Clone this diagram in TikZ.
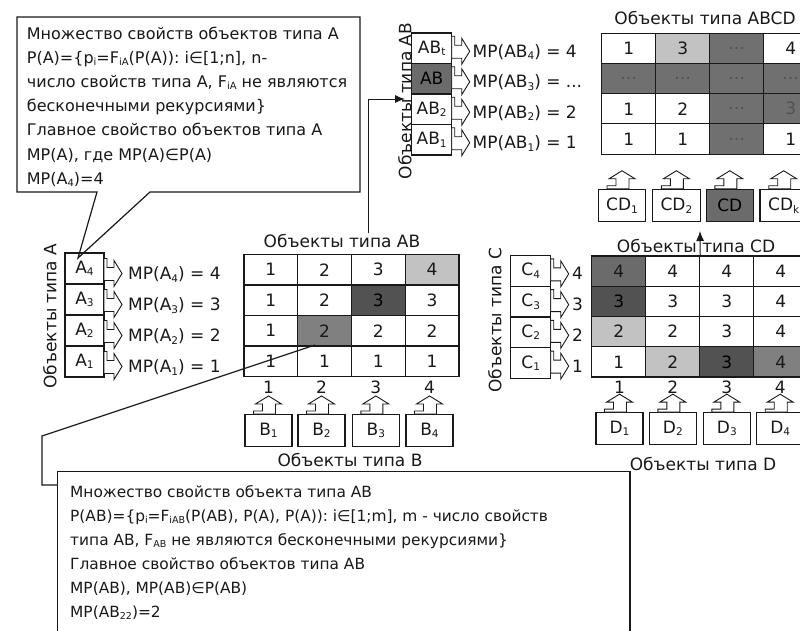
\documentclass[tikz,border=0pt]{standalone}
\usepackage{fontspec}
\setmainfont{DejaVu Sans}
\usepackage{graphicx}
\usetikzlibrary{arrows.meta}
\definecolor{ink}{gray}{0.1}
\definecolor{lg}{gray}{0.76}
\definecolor{mg}{gray}{0.50}
\definecolor{dg}{gray}{0.32}
\definecolor{bg}{gray}{0.44}
\definecolor{kg}{gray}{0.42}
\newcommand\lowidx[1]{\raisebox{-0.15em}{\scalebox{0.62}{#1}}}
\newcommand\trdots{...}
\newcommand\hdots{…}
\newcommand\lblfont{\fontsize{17}{20}\selectfont}
\newcommand\topfont{\fontsize{16}{20}\selectfont}
\newcommand\botfont{\fontsize{15.4}{18}\selectfont}
\tikzset{
  gridcell/.style={draw=ink, line width=1.1pt, inner sep=0pt, font=\lblfont, text=ink},
  obox/.style={draw=ink, line width=1.1pt, inner sep=0pt, font=\lblfont, text=ink, fill=white},
  lbl/.style={inner sep=0pt, font=\lblfont, text=ink},
  arr/.style={draw=ink, line width=0.9pt, fill=white, line join=miter},
  rarr/.pic={\path[arr,pic actions] (0,-15) -- (3,-15) -- (3,-6) -- (10,-6) -- (10,-13) -- (18,0) -- (10,13) -- (10,7) -- (0,7) -- cycle;},
  uarr/.pic={\path[arr,pic actions] (-15,0) -- (-15,-3) -- (-6,-3) -- (-6,-10) -- (-13,-10) -- (0,-18) -- (13,-10) -- (7,-10) -- (7,0) -- cycle;},
  callout/.style={draw=ink, line width=1.2pt},
  ctxt/.style={inner sep=0pt, anchor=base west, text=ink},
  conn/.style={draw=ink, line width=1pt},
}
\begin{document}
\begin{tikzpicture}[x=1pt,y=-1pt]
\useasboundingbox (0,0) rectangle (800,630);
\clip (0,0) rectangle (800,630);
\fill[white] (0,0) rectangle (800,630);

% ---------- A column ----------
\foreach \i/\r in {4/1,3/2,2/3,1/4} {
  \node[obox, minimum width=39pt, minimum height=31pt] (a\i) at (84.5,{253+31*(\r-0.5)}) {A\lowidx{\i}};
  \pic at (104,{253+31*(\r-1)+20.5}) {rarr};
  \node[lbl, anchor=base west] (mpa\i) at (128,{253+31*(\r-1)+26.5}) {MP(A\lowidx{\i}) = \i};
}
\node[lbl, rotate=90] (ta) at (50,316) {Объекты типа A};

% ---------- AB grid ----------
\foreach \r/\c/\v/\f/\t in {1/1/1/white/ink,1/2/2/white/ink,1/3/3/white/ink,1/4/4/lg/ink,
  2/1/1/white/ink,2/2/2/white/ink,2/3/3/dg/black,2/4/3/white/ink,
  3/1/1/white/ink,3/2/2/mg/ink,3/3/2/white/ink,3/4/2/white/ink,
  4/1/1/white/ink,4/2/1/white/ink,4/3/1/white/ink,4/4/1/white/ink} {
  \node[gridcell, fill=\f, text=\t, minimum width=53.75pt, minimum height=30.5pt] (ab-\r-\c) at ({244+53.75*(\c-0.5)},{254.5+30.5*(\r-0.5)}) {\v};
}
\node[lbl, anchor=base] (tab) at (342,247.5) {Объекты типа AB};

% ---------- B boxes ----------
\foreach \i/\x in {1/268.5,2/321.5,3/375.8,4/429.5} {
  \node[obox, minimum width=47pt, minimum height=32pt] (b\i) at (\x,430.5) {B\lowidx{\i}};
  \pic at (b\i.north) {uarr};
  \node[lbl, anchor=base] (nb\i) at (\x,393) {\i};
}
\node[lbl, anchor=base] (tb) at (350,466) {Объекты типа B};

% ---------- AB top column ----------
\foreach \i/\r/\s/\v/\f in {t/1/4/4/white,3/2/3/\trdots/kg,2/3/2/2/white,1/4/1/1/white} {
  \node[obox, fill=\f, minimum width=40pt, minimum height=30.5pt] (abk\r) at (431.7,{33+30.5*(\r-0.5)}) {};
  \pic[fill=\f] at (451.7,{33+30.5*(\r-0.5)+3}) {rarr};
  \node[lbl, anchor=base west] (mpab\r) at (472.5,{33+30.5*(\r-0.5)+9}) {MP(AB\lowidx{\s}) = \v};
}
\node[lbl] (abl1) at (abk1) {AB\lowidx{t}};
\node[lbl, text=black] (abl2) at (abk2) {AB};
\node[lbl] (abl3) at (abk3) {AB\lowidx{2}};
\node[lbl] (abl4) at (abk4) {AB\lowidx{1}};
\node[lbl, rotate=90] (tabv) at (405,101) {Объекты типа AB};

% ---------- ABCD grid ----------
\foreach \r/\c/\v/\f/\t in {1/1/1/white/ink,1/2/3/lg/ink,1/3/\hdots/bg/dg,1/4/4/white/ink,
  2/1/\hdots/bg/dg,2/2/\hdots/bg/dg,2/3/\hdots/bg/dg,2/4/\hdots/bg/dg,
  3/1/1/white/ink,3/2/2/white/ink,3/3/\hdots/bg/dg,3/4/3/bg/dg,
  4/1/1/white/ink,4/2/1/white/ink,4/3/\hdots/bg/dg,4/4/1/white/ink} {
  \node[gridcell, fill=\f, text=\t, minimum width=54pt, minimum height=30.2pt] (abcd-\r-\c) at ({601.7+54*(\c-0.5)},{33.3+30.2*(\r-0.5)}) {\v};
}
\node[lbl, anchor=base] (tabcd) at (705,24.5) {Объекты типа ABCD};

% ---------- CD boxes ----------
\foreach \i/\x/\l/\f/\t in {1/622/CD\lowidx{1}/white/ink,2/676.4/CD\lowidx{2}/white/ink,3/729.8/CD/kg/black,4/783.7/CD\lowidx{k}/white/ink} {
  \node[obox, fill=\f, text=\t, minimum width=47.5pt, minimum height=32.4pt] (cdb\i) at (\x,205.5) {\l};
  \pic[fill=\f] at (cdb\i.north) {uarr};
}

% ---------- C column ----------
\foreach \i/\r in {4/1,3/2,2/3,1/4} {
  \node[obox, minimum width=40pt, minimum height=30.75pt] (c\i) at (530.7,{255.5+30.75*(\r-0.5)}) {C\lowidx{\i}};
  \pic at (550.7,{255.5+30.75*(\r-0.5)+3}) {rarr};
  \node[lbl, anchor=base west] (nc\i) at (572,{255.5+30.75*(\r-0.5)+9}) {\i};
}
\node[lbl, rotate=90] (tc) at (495,320) {Объекты типа C};

% ---------- CD grid ----------
\foreach \r/\c/\v/\f/\t in {1/1/4/kg/ink,1/2/4/white/ink,1/3/4/white/ink,1/4/4/white/ink,
  2/1/3/dg/black,2/2/3/white/ink,2/3/3/white/ink,2/4/4/white/ink,
  3/1/2/lg/ink,3/2/2/white/ink,3/3/3/white/ink,3/4/4/white/ink,
  4/1/1/white/ink,4/2/2/lg/ink,4/3/3/dg/black,4/4/4/mg/ink} {
  \node[gridcell, fill=\f, text=\t, minimum width=54pt, minimum height=30.25pt] (cd-\r-\c) at ({591.7+54*(\c-0.5)},{256+30.25*(\r-0.5)}) {\v};
}
\node[lbl, anchor=base] (tcd) at (696,252) {Объекты типа CD};

% ---------- D boxes ----------
\foreach \i/\x in {1/619.5,2/672.8,3/726.8,4/780.2} {
  \node[obox, minimum width=47pt, minimum height=31.6pt] (d\i) at (\x,428.5) {D\lowidx{\i}};
  \pic at (d\i.north) {uarr};
  \node[lbl, anchor=base] (nd\i) at (\x,393) {\i};
}
\node[lbl, anchor=base] (td) at (703,470) {Объекты типа D};

% ---------- connectors ----------
\coordinate (abup0) at (368,233);
\coordinate (abup1) at (368,99);
\coordinate (abup2) at (405,99);
\draw[conn, -{Latex[length=10pt,width=8pt]}] (abup0) -- (abup1) -- (abup2);
\coordinate (cdup) at (700,231);
\draw[conn, -{Latex[length=10pt,width=8pt]}] (cd-1-2.north east) -- (cdup);

% ---------- top callout ----------
\coordinate (tip1) at (78,258);
\draw[callout] (17,17) -- (360,17) -- (360,192) -- (150,192) -- (tip1) -- (97,192) -- (17,192) -- cycle;
\begin{scope}[every node/.style={ctxt, font=\topfont}]
\node (t1) at (26.7,39) {Множество свойств объектов типа А};
\node (t2) at (26.7,63.2) {P(A)=\{p\lowidx{i}=F\lowidx{iA}(P(A)): i∈[1;n], n-};
\node (t3) at (26.7,87.4) {число свойств типа А, F\lowidx{iA} не являются};
\node (t4) at (26.7,111.6) {бесконечными рекурсиями\}};
\node (t5) at (26.7,135.8) {Главное свойство объектов типа А};
\node (t6) at (26.7,160) {MP(A), где MP(A)∈P(A)};
\node (t7) at (26.7,184.2) {MP(A\lowidx{4})=4};
\end{scope}

% ---------- bottom callout ----------
\coordinate (tip2) at (315,345);
\draw[callout] (57.5,640) -- (57.5,471.7) -- (630,471.7) -- (630,640);
\draw[callout] (57.5,485) -- (42,485) -- (42,436) -- (tip2);
\begin{scope}[every node/.style={ctxt, font=\botfont}]
\node (u1) at (70,497) {Множество свойств объекта типа AB};
\node (u2) at (70,521) {P(AB)=\{p\lowidx{i}=F\lowidx{iAB}(P(AB), P(A), P(A)): i∈[1;m], m - число свойств};
\node (u3) at (70,545) {типа AB, F\lowidx{AB} не являются бесконечными рекурсиями\}};
\node (u4) at (70,569) {Главное свойство объектов типа AB};
\node (u5) at (70,593) {MP(AB), MP(AB)∈P(AB)};
\node (u6) at (70,617) {MP(AB\lowidx{22})=2};
\end{scope}
\end{tikzpicture}
\end{document}
